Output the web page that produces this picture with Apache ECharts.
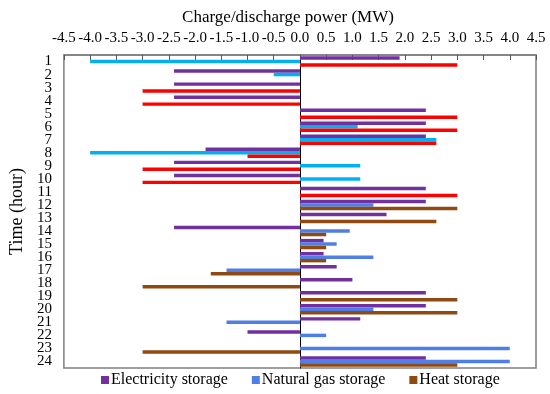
<!DOCTYPE html>
<html><head><meta charset="utf-8">
<script src="https://cdn.jsdelivr.net/npm/echarts@6/dist/echarts.min.js"></script>
<style>html,body{margin:0;padding:0;background:#fff}#c{width:550px;height:394px}</style>
</head><body><div id="c"></div>
<script>
const hours = ['1','2','3','4','5','6','7','8','9','10','11','12','13','14','15','16','17','18','19','20','21','22','23','24'];
const electricity = [1.9,-2.4,-2.4,-2.4,2.4,2.4,2.4,-1.8,-2.4,-2.4,2.4,2.4,1.65,-2.4,0.45,0.45,0.7,1.0,2.4,2.4,1.15,-1.0,0,2.4];
const naturalGas = [-4.0,-0.5,0,0,0,1.1,2.6,-4.0,1.15,1.15,0,1.4,0,0.95,0.7,1.4,-1.4,0,0,1.4,-1.4,0.5,4.0,4.0];
const heat = [3.0,0,-3.0,-3.0,3.0,3.0,2.6,-1.0,-3.0,-3.0,3.0,3.0,2.6,0.5,0.5,0.5,-1.7,-3.0,3.0,3.0,0,0,-3.0,3.0];
const xTicks = ['-4.5','-4.0','-3.5','-3.0','-2.5','-2.0','-1.5','-1.0','-0.5','0.0','0.5','1.0','1.5','2.0','2.5','3.0','3.5','4.0','4.5'];

const font = 'Liberation Serif, Times New Roman, serif';
const purple = '#7030A0';
const gasEarly = '#00B0F0', gasLate = '#4F7FE6';
const heatEarly = '#FF0000', heatLate = '#8E4A10';

const gasData = naturalGas.map((v,i)=>({value:v,itemStyle:{color:i<11?gasEarly:gasLate}}));
const heatData = heat.map((v,i)=>({value:v,itemStyle:{color:i<11?heatEarly:heatLate}}));

const chart = echarts.init(document.getElementById('c'));
chart.setOption({
  animation:false,
  textStyle:{fontFamily:font},
  grid:{left:60,right:14,top:55,bottom:26,show:true,borderColor:'#7f7f7f',borderWidth:1.5,containLabel:false},
  title:{text:'Charge/discharge power (MW)',left:283,textAlign:'center',top:4,textStyle:{fontFamily:font,fontSize:17,fontWeight:'normal',color:'#000'}},
  legend:{bottom:1,left:96,itemWidth:8,itemHeight:8,itemGap:24,icon:'rect',
    textStyle:{fontFamily:font,fontSize:16,color:'#000',padding:[0,0,0,-3]},
    data:['Electricity storage','Natural gas storage','Heat storage']},
  xAxis:{type:'value',position:'top',min:-4.5,max:4.5,interval:0.5,
    axisLine:{show:true,lineStyle:{color:'#7f7f7f',width:1.5}},
    axisTick:{show:true,inside:true,length:5,lineStyle:{color:'#555'}},
    splitLine:{show:false},
    axisLabel:{fontFamily:font,fontSize:15,color:'#000',margin:9,formatter:(v)=>xTicks[Math.round((v+4.5)*2)]}},
  yAxis:{type:'category',data:hours,inverse:true,
    name:'Time (hour)',nameLocation:'middle',nameGap:34,nameRotate:90,
    nameTextStyle:{fontFamily:font,fontSize:18,color:'#000'},
    axisLine:{show:true,onZero:true,lineStyle:{color:'#000',width:1}},
    axisTick:{show:false},
    axisLabel:{fontFamily:font,fontSize:15,color:'#000',margin:12,interval:0,lineHeight:13}},
  series:[
    {name:'Electricity storage',type:'bar',data:electricity,itemStyle:{color:purple},barGap:'0%',barCategoryGap:'20%'},
    {name:'Natural gas storage',type:'bar',data:gasData,itemStyle:{color:gasLate}},
    {name:'Heat storage',type:'bar',data:heatData,itemStyle:{color:heatLate}}
  ]
});
</script></body></html>
